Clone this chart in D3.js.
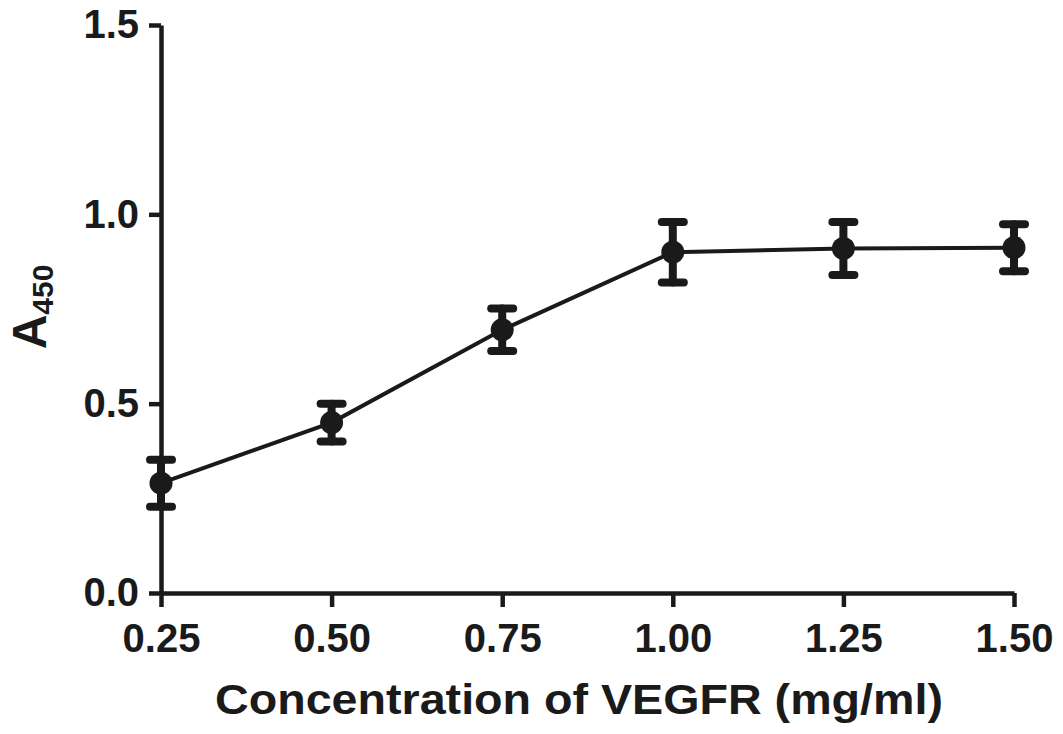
<!DOCTYPE html>
<html>
<head>
<meta charset="utf-8">
<script src="https://cdn.jsdelivr.net/npm/d3@7"></script>
<style>
  body { margin: 0; background: #fff; }
  text { font-family: "Liberation Sans", Arial, sans-serif; font-weight: bold; fill: #1a1a1a; }
</style>
</head>
<body>
<div id="chart"></div>
<script>
// data
const concentrations = [0.25, 0.50, 0.75, 1.00, 1.25, 1.50]
const meanA450 = [0.29, 0.45, 0.695, 0.90, 0.91, 0.912]
const semA450 = [0.062, 0.05, 0.056, 0.08, 0.07, 0.062]
const xTicks = [0.25, 0.50, 0.75, 1.00, 1.25, 1.50]
const yTicks = [0.0, 0.5, 1.0, 1.5]

const width = 1063
const height = 734
const ink = '#1a1a1a'

const svg = d3.select('#chart').append('svg')
    .attr('width', width)
    .attr('height', height)

// scales
const x = d3.scaleLinear().domain([0.25, 1.5]).range([161, 1014])
const y = d3.scaleLinear().domain([0, 1.5]).range([593, 25])

// axes
const yAxis = svg.append('g')
    .attr('transform', `translate(${x(0.25)},0)`)
    .call(d3.axisLeft(y).tickValues(yTicks).tickFormat(d3.format('.1f'))
        .tickSize(12).tickSizeOuter(0).tickPadding(10))
const xAxis = svg.append('g')
    .attr('transform', `translate(0,${y(0)})`)
    .call(d3.axisBottom(x).tickValues(xTicks).tickFormat(d3.format('.2f'))
        .tickSize(14).tickSizeOuter(0).tickPadding(17))

;[yAxis, xAxis].forEach(ax => {
    ax.select('.domain').attr('stroke', ink).attr('stroke-width', 4.5)
    ax.selectAll('.tick line').attr('stroke', ink).attr('stroke-width', 4.5)
    ax.selectAll('.tick text').attr('fill', ink).style('font-size', '40px')
})

// data line
const pts = concentrations.map((c, i) => ({ c: c, m: meanA450[i], s: semA450[i] }))
svg.append('path')
    .datum(pts)
    .attr('fill', 'none')
    .attr('stroke', ink)
    .attr('stroke-width', 4)
    .attr('d', d3.line().x(d => x(d.c)).y(d => y(d.m)))

// error bars
const err = svg.append('g').attr('stroke', ink).attr('stroke-linecap', 'round')
err.selectAll('.stem').data(pts).enter().append('line')
    .attr('x1', d => x(d.c)).attr('x2', d => x(d.c))
    .attr('y1', d => y(d.m - d.s)).attr('y2', d => y(d.m + d.s))
    .attr('stroke-width', 8)
err.selectAll('.capTop').data(pts).enter().append('line')
    .attr('x1', d => x(d.c) - 11).attr('x2', d => x(d.c) + 11)
    .attr('y1', d => y(d.m + d.s)).attr('y2', d => y(d.m + d.s))
    .attr('stroke-width', 8)
err.selectAll('.capBot').data(pts).enter().append('line')
    .attr('x1', d => x(d.c) - 11).attr('x2', d => x(d.c) + 11)
    .attr('y1', d => y(d.m - d.s)).attr('y2', d => y(d.m - d.s))
    .attr('stroke-width', 8)

// markers
svg.append('g').selectAll('circle').data(pts).enter().append('circle')
    .attr('cx', d => x(d.c))
    .attr('cy', d => y(d.m))
    .attr('r', 11.5)
    .attr('fill', ink)

// axis titles
svg.append('text')
    .attr('x', 579)
    .attr('y', 714)
    .attr('text-anchor', 'middle')
    .attr('textLength', 728)
    .attr('lengthAdjust', 'spacingAndGlyphs')
    .style('font-size', '43px')
    .text('Concentration of VEGFR (mg/ml)')

const yTitle = svg.append('text')
    .attr('transform', 'translate(46,307) rotate(-90)')
    .attr('text-anchor', 'middle')
yTitle.append('tspan').style('font-size', '48px').text('A')
yTitle.append('tspan').style('font-size', '30px').attr('dy', 7).text('450')
</script>
</body>
</html>
